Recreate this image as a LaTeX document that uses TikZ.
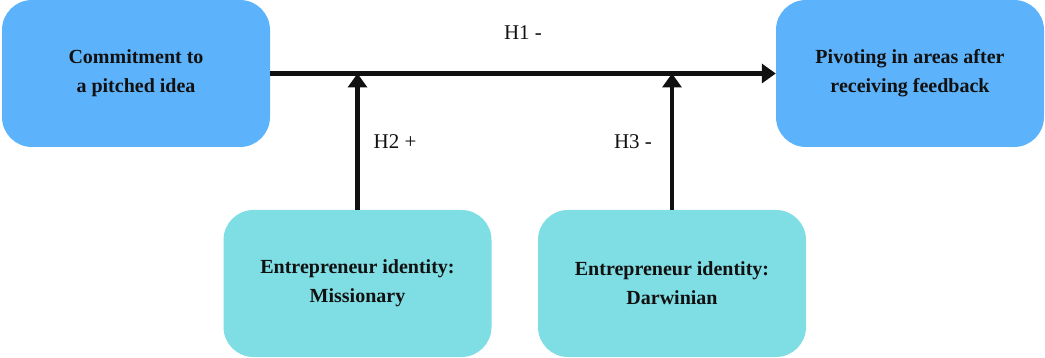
\documentclass[tikz,border=0pt]{standalone}
\usepackage{fontspec}
\setmainfont{Liberation Serif}
\usepackage{tikz}
\usetikzlibrary{arrows.meta}
\definecolor{topblue}{HTML}{5DB3FB}
\definecolor{lowcyan}{HTML}{7FDDE4}
\definecolor{inkdark}{HTML}{111111}

\begin{document}
\begin{tikzpicture}[
  x=1pt, y=-1pt,
  box/.style={
    rectangle, rounded corners=30pt, draw=none,
    minimum width=268pt, minimum height=147pt,
    align=center, text=inkdark,
    font=\fontsize{20}{29}\selectfont\bfseries
  },
  link/.style={
    line width=4.4pt, draw=inkdark,
    -{Triangle[length=14pt,width=19pt]}
  },
  hyp/.style={font=\fontsize{21}{24}\selectfont, text=inkdark}
]
  \useasboundingbox (0,0) rectangle (1045,358);
  \node[box, fill=topblue] (commit) at (136,73.5){Commitment to\\a pitched idea};
  \node[box, fill=topblue] (pivot) at (910,73.5){Pivoting in areas after\\receiving feedback};
  \node[box, fill=lowcyan] (mission) at (357.5,283.5){Entrepreneur identity:\\Missionary};
  \node[box, fill=lowcyan] (darwin) at (672,283.5){Entrepreneur identity:\\Darwinian};
  \draw[link] (commit.east) -- (pivot.west);
  \draw[link] (mission.north) -- (mission.north |- commit.east);
  \draw[link] (darwin.north) -- (darwin.north |- commit.east);
  \node[hyp] (h1) at (523,33){H1 -};
  \node[hyp] (h2) at (395,142){H2 +};
  \node[hyp] (h3) at (633,142){H3 -};
\end{tikzpicture}
\end{document}
